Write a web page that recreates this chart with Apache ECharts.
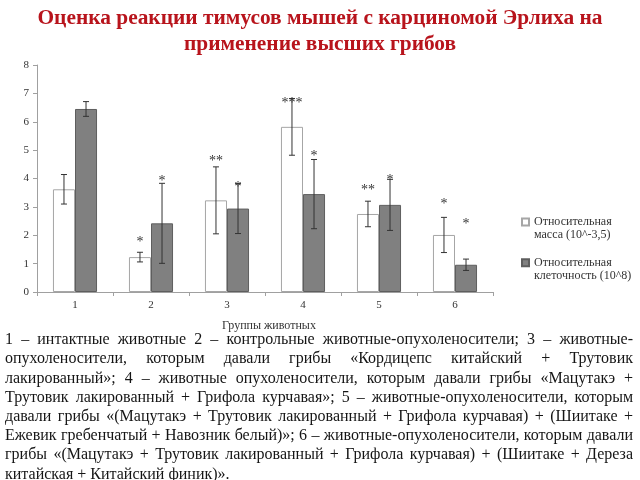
<!DOCTYPE html>
<html>
<head>
<meta charset="utf-8">
<script src="https://cdn.jsdelivr.net/npm/echarts@6/dist/echarts.min.js"></script>
<style>html,body{margin:0;padding:0;background:#fff}#c{width:640px;height:480px}</style>
</head>
<body>
<div id="c"></div>
<script>
const titleText = 'Оценка реакции тимусов мышей с карциномой Эрлиха на\nприменение высших грибов';
const xAxisName = 'Группы животных';
const categories = ['1', '2', '3', '4', '5', '6'];
const yTicks = [0, 1, 2, 3, 4, 5, 6, 7, 8];
const massName = 'Относительная\nмасса (10^-3,5)';
const cellName = 'Относительная\nклеточность (10^8)';
const massValues = [3.62, 1.23, 3.23, 5.82, 2.75, 2.01];
const massErrors = [0.52, 0.17, 1.18, 1.00, 0.45, 0.62];
const cellValues = [6.45, 2.42, 2.94, 3.45, 3.07, 0.96];
const cellErrors = [0.26, 1.41, 0.88, 1.22, 0.90, 0.20];
const massMarks = ['', '*', '**', '***', '**', '*'];
const massMarkLevels = [null, 1.90, 4.75, 6.78, 3.73, 3.24];
const cellMarks = ['', '*', '*', '*', '*', '*'];
const cellMarkLevels = [null, 4.05, 3.82, 4.93, 4.08, 2.51];
const captionLines = [
  '1 – интактные животные 2 – контрольные животные-опухоленосители; 3 – животные-',
  'опухоленосители, которым давали грибы «Кордицепс китайский + Трутовик',
  'лакированный»; 4 – животные опухоленосители, которым давали грибы «Мацутакэ +',
  'Трутовик лакированный + Грифола курчавая»; 5 – животные-опухоленосители, которым',
  'давали грибы «(Мацутакэ + Трутовик лакированный + Грифола курчавая) + (Шиитаке +',
  'Ежевик гребенчатый + Навозник белый)»; 6 – животные-опухоленосители, которым давали',
  'грибы «(Мацутакэ + Трутовик лакированный + Грифола курчавая) + (Шиитаке + Дереза',
  'китайская + Китайский финик)».'
];

const FONT = '"Liberation Serif", "Times New Roman", serif';
const GAP = 0.42;

const chart = echarts.init(document.getElementById('c'), null, {renderer: 'canvas'});

function errSeries(name, values, errors, marks, levels, side) {
  return {
    type: 'custom',
    name: name + '_err',
    z: 5,
    silent: true,
    data: values.map((v, i) => [i, v, errors[i]]),
    encode: {x: 0, y: 1},
    renderItem(params, api) {
      const i = api.value(0), v = api.value(1), e = api.value(2);
      const catW = api.size([1, 0])[0];
      const barW = catW * (1 - GAP) / 2;
      const cx = api.coord([i, v])[0] + side * barW / 2;
      const yt = api.coord([i, v + e])[1];
      const yb = api.coord([i, v - e])[1];
      const cap = 3;
      const st = {stroke: '#333', lineWidth: 1};
      const children = [
        {type: 'line', shape: {x1: cx, y1: yt, x2: cx, y2: yb}, style: st},
        {type: 'line', shape: {x1: cx - cap, y1: yt, x2: cx + cap, y2: yt}, style: st},
        {type: 'line', shape: {x1: cx - cap, y1: yb, x2: cx + cap, y2: yb}, style: st}
      ];
      const idx = params.dataIndex;
      if (marks[idx]) {
        const my = api.coord([i, levels[idx]])[1];
        children.push({
          type: 'text',
          style: {text: marks[idx], x: cx, y: my + 4, align: 'center', verticalAlign: 'middle',
                  font: '14px ' + FONT, fill: '#333'}
        });
      }
      return {type: 'group', children};
    }
  };
}

// Justified caption built from words
const ctx = document.createElement('canvas').getContext('2d');
const capFont = '16px ' + FONT;
ctx.font = capFont;
const capLeft = 5, capRight = 633, capTop = 340, capStep = 19.2;
const spaceW = ctx.measureText(' ').width;
const natural = captionLines.map(l => ctx.measureText(l).width);
const sx = Math.min(1, (capRight - capLeft) / Math.max.apply(null, natural));
const graphics = [];
captionLines.forEach((line, li) => {
  const y = capTop + li * capStep;
  const last = li === captionLines.length - 1;
  const words = line.split(' ');
  const widths = words.map(w => ctx.measureText(w).width * sx);
  const total = widths.reduce((a, b) => a + b, 0);
  const gap = last ? spaceW * sx : (capRight - capLeft - total) / (words.length - 1);
  let x = capLeft;
  words.forEach((w, wi) => {
    graphics.push({type: 'text', x: x, y: y, scaleX: sx,
      style: {text: w, x: 0, y: 0, font: capFont, fill: '#151515', verticalAlign: 'middle'}});
    x += widths[wi] + gap;
  });
});

chart.setOption({
  animation: false,
  title: {
    text: titleText,
    left: 'center',
    top: 5,
    padding: 0,
    textStyle: {fontFamily: FONT, fontSize: 21.4, fontWeight: 'bold', color: '#b8141c', lineHeight: 26}
  },
  legend: {
    orient: 'vertical',
    left: 521,
    top: 202,
    padding: 0,
    itemWidth: 7,
    itemHeight: 7,
    itemGap: 1,
    icon: 'rect',
    data: [massName, cellName],
    formatter: n => ' \n' + n,
    textStyle: {fontFamily: FONT, fontSize: 12, color: '#333', lineHeight: 13.3}
  },
  grid: {left: 37, right: 147, top: 65, bottom: 188},
  xAxis: {
    type: 'category',
    data: categories,
    name: xAxisName,
    nameLocation: 'middle',
    nameGap: 28,
    nameTextStyle: {fontFamily: FONT, fontSize: 12, color: '#333', padding: [0, 0, 0, 8]},
    axisLine: {lineStyle: {color: '#a0a0a0'}},
    axisTick: {show: true, length: 4, lineStyle: {color: '#a0a0a0'}},
    axisLabel: {fontFamily: FONT, fontSize: 11, color: '#333', margin: 8}
  },
  yAxis: {
    type: 'value',
    min: yTicks[0],
    max: yTicks[yTicks.length - 1],
    interval: 1,
    splitLine: {show: false},
    axisLine: {show: true, lineStyle: {color: '#a0a0a0'}},
    axisTick: {show: true, length: 4, lineStyle: {color: '#a0a0a0'}},
    axisLabel: {fontFamily: FONT, fontSize: 11, color: '#333', margin: 8}
  },
  series: [
    {type: 'bar', name: massName, data: massValues, barGap: '0%', barCategoryGap: (GAP * 100) + '%',
     itemStyle: {color: '#ffffff', borderColor: '#a6a6a6', borderWidth: 1}},
    {type: 'bar', name: cellName, data: cellValues, barGap: '0%', barCategoryGap: (GAP * 100) + '%',
     itemStyle: {color: '#808080', borderColor: '#5e5e5e', borderWidth: 1}},
    errSeries('mass', massValues, massErrors, massMarks, massMarkLevels, -1),
    errSeries('cell', cellValues, cellErrors, cellMarks, cellMarkLevels, 1)
  ],
  graphic: graphics
});
</script>
</body>
</html>
